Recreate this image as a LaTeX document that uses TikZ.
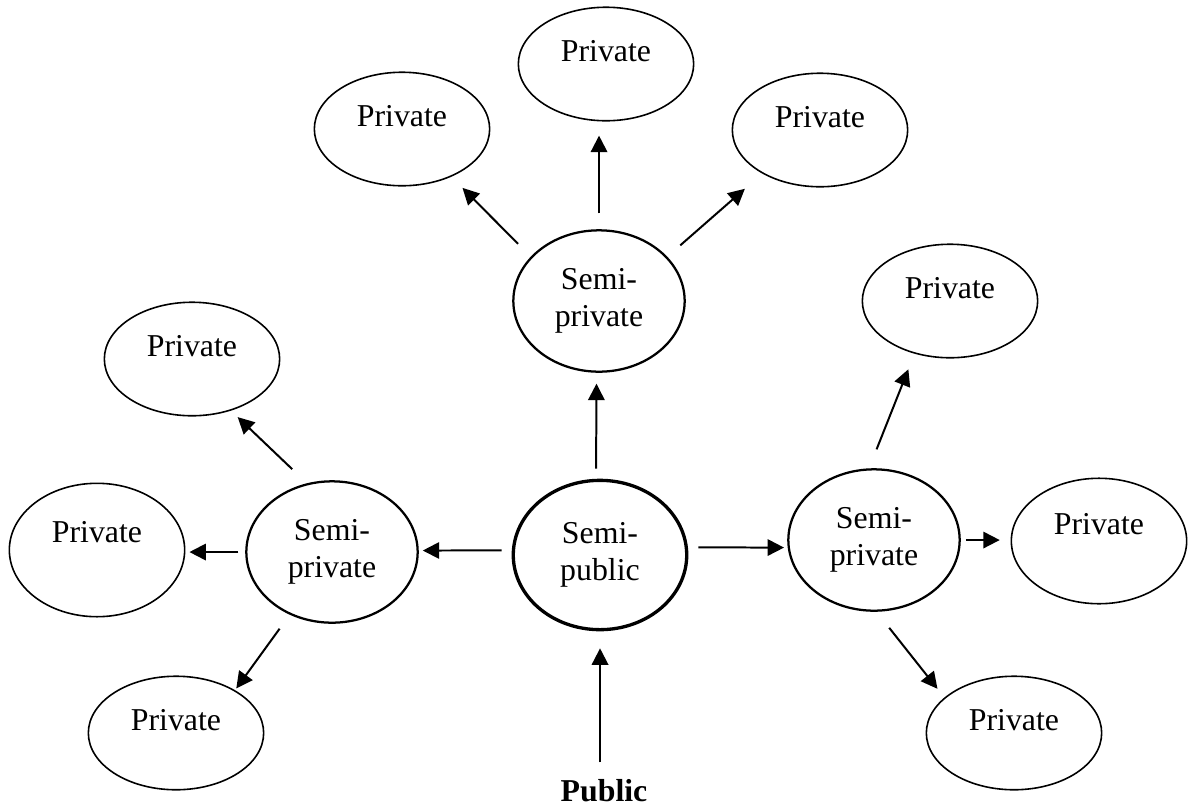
\documentclass[tikz,border=0pt]{standalone}
\usepackage{fontspec}
\setmainfont{Liberation Serif}
\usetikzlibrary{arrows.meta,shapes.geometric}
\tikzset{
  zone/.style={ellipse, draw=black, inner sep=2pt, font=\fontsize{12}{13.8}\selectfont},
  private/.style={zone, line width=0.6pt, minimum width=66.1pt, minimum height=42.8pt, text height=8pt, text depth=9.9pt},
  semi/.style={zone, align=center, line width=0.85pt, minimum width=64.6pt, minimum height=53.3pt},
  flow/.style={black, line width=0.75pt, -{Triangle[length=6.2pt,width=6.2pt]}}
}
\begin{document}
\begin{tikzpicture}[scale=0.1325]
\useasboundingbox (0,0) rectangle (119.2,-80.7);
\node [semi, line width=1.25pt, minimum width=65.4pt, minimum height=56.3pt] (sp) at (60.0,-55.5) {Semi-\\public};
\node [semi] (sTop) at (59.9,-30.1) {Semi-\\private};
\node [semi] (sLeft) at (33.2,-55.2) {Semi-\\private};
\node [semi] (sRight) at (87.4,-54.0) {Semi-\\private};
\node [private] (pTop) at (60.6,-6.4) {Private};
\node [private] (pTopL) at (40.2,-12.9) {Private};
\node [private] (pTopR) at (82.0,-13.0) {Private};
\node [private] (pRightU) at (95.0,-30.1) {Private};
\node [private, minimum height=47.3pt, text depth=12.9pt] (pRight) at (109.9,-54.1) {Private};
\node [private] (pRightD) at (101.4,-73.3) {Private};
\node [private] (pLeftU) at (19.2,-35.9) {Private};
\node [private, minimum height=50.3pt, text depth=13.7pt] (pLeft) at (9.7,-55.0) {Private};
\node [private] (pLeftD) at (17.6,-73.3) {Private};
\node [font=\fontsize{12}{13.8}\selectfont\bfseries, inner sep=0pt] (pub) at (60.4,-79.1) {Public};
\draw [flow, shorten <=6.4pt, shorten >=6.4pt] (sp.south |- pub.north) -- (sp.south);
\draw [flow, shorten <=3.8pt, shorten >=4.1pt] (sp.93) -- (sTop.-92);
\draw [flow, shorten <=3.8pt, shorten >=1.5pt] (sp.177) -- (sLeft.1);
\draw [flow, shorten <=3.9pt, shorten >=1.4pt] (sp.5) -- (sRight.185);
\draw [flow, shorten <=6pt, shorten >=5.3pt] (sTop.north) -- (sTop.north |- pTop.south);
\draw [flow, shorten <=6.8pt, shorten >=5.9pt] (sTop.147) -- (pTopL.-44);
\draw [flow, shorten <=6.5pt, shorten >=8.7pt] (sTop.33) -- (pTopR.-143);
\draw [flow, shorten <=7.7pt, shorten >=3.5pt] (sLeft.110) -- (pLeftU.-53);
\draw [flow, shorten <=2.6pt, shorten >=1.5pt] (sLeft.west) -- (sLeft.west -| pLeft.east);
\draw [flow, shorten <=6.5pt, shorten >=0.8pt] (sLeft.-124) -- (pLeftD.36);
\draw [flow, shorten <=7.7pt, shorten >=6.3pt] (sRight.94) -- (pRightU.-124);
\draw [flow, shorten <=1.9pt, shorten >=4.1pt] (sRight.east) -- (sRight.east -| pRight.west);
\draw [flow, shorten <=7.7pt, shorten >=4.2pt] (sRight.-88) -- (pRightD.153);
\end{tikzpicture}
\end{document}
